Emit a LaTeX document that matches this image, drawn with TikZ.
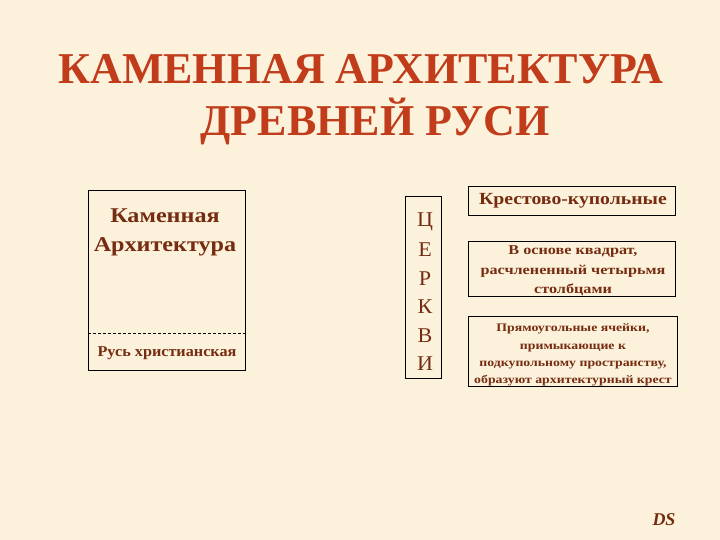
\documentclass[tikz,border=0pt]{standalone}
\usepackage{fontspec}
\setmainfont{Liberation Serif}
\definecolor{bg}{HTML}{FCF1DB}
\definecolor{titlec}{HTML}{C03C1A}
\definecolor{txt}{HTML}{752C10}
\begin{document}
\begin{tikzpicture}[x=1pt,y=-1pt,
  box/.style={draw=black,line width=0.8pt},
  btxt/.style={text=txt,align=center,inner sep=0pt}]
\fill[bg] (0,0) rectangle (720,540);
\useasboundingbox (0,0) rectangle (720,540);
% title
\node[text=titlec,font=\fontsize{44}{52}\selectfont\bfseries,align=center,inner sep=0pt] (t1) at (361,69) {КАМЕННАЯ АРХИТЕКТУРА};
\node[text=titlec,font=\fontsize{44}{52}\selectfont\bfseries,align=center,inner sep=0pt] (t2) at (375,121) {ДРЕВНЕЙ РУСИ};
% left box
\draw[box] (88,190) rectangle (245,370);
\draw[dash pattern=on 3pt off 2pt,line width=0.6pt] (88,333) -- (247,333);
\node[btxt,font=\fontsize{21}{29}\selectfont\bfseries\addfontfeature{FakeStretch=1.15}] (ka) at (165,232) {Каменная\\Архитектура};
\node[btxt,font=\fontsize{15}{18}\selectfont\bfseries\addfontfeature{FakeStretch=1.08}] (rus) at (167,353) {Русь христианская};
% church box
\draw[box] (405,196) rectangle (441,378);
\foreach \l [count=\i] in {Ц,Е,Р,К,В,И}
  \node[text=txt,font=\fontsize{21}{22}\selectfont\addfontfeature{FakeStretch=1.05},inner sep=0pt] (c\i) at (425,193+28.5*\i) {\l};
% right boxes
\draw[box] (468,186) rectangle (675,215);
\node[btxt,font=\fontsize{17}{19}\selectfont\bfseries\addfontfeature{FakeStretch=1.16}] (k1) at (573,201) {Крестово-купольные};
\draw[box] (468,241) rectangle (675,296);
\node[btxt,font=\fontsize{13.5}{19.5}\selectfont\bfseries\addfontfeature{FakeStretch=1.2}] (k2) at (573,271) {В основе квадрат,\\расчлененный четырьмя\\столбцами};
\draw[box] (468,316) rectangle (677,386);
\node[btxt,font=\fontsize{11.5}{17.3}\selectfont\bfseries\addfontfeature{FakeStretch=1.2}] (k3) at (573,355) {Прямоугольные ячейки,\\примыкающие к\\подкупольному пространству,\\образуют архитектурный крест};
\node[text=txt,font=\fontsize{18}{20}\selectfont\bfseries\itshape,inner sep=0pt] (ds) at (664,520) {DS};
\end{tikzpicture}
\end{document}
